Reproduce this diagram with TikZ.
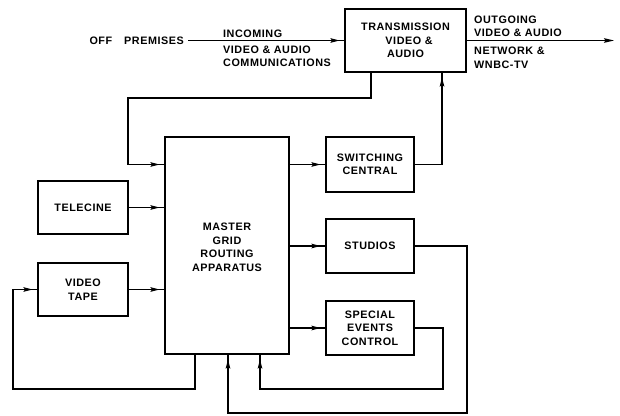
\documentclass[tikz,border=0pt]{standalone}
\usepackage{fontspec}
\setmainfont{Liberation Sans}[LetterSpace=5]
\usetikzlibrary{arrows.meta,decorations.markings}
\tikzset{
  lw/.style={line width=1.1pt},
  box/.style={draw, lw, inner sep=0pt, align=center, font=\lbl},
  lab/.style={inner sep=0pt, align=left, font=\lbl},
  arr/.style={lw, postaction={decorate}, decoration={markings,
      mark=at position -5pt with {\arrow{Stealth[length=9pt,width=4.6pt,inset=1.5pt]}}}},
  endarr/.style={lw, -{Stealth[length=10pt,width=4.6pt,inset=1.5pt]}},
}
\newcommand{\lbl}{\fontsize{10.8}{13.5}\selectfont\bfseries}
\begin{document}
\begin{tikzpicture}[x=1pt,y=-1pt]
\useasboundingbox (0,0) rectangle (620,415);
% boxes
\node[box, minimum width=121pt, minimum height=63pt] (trans) at (405.5,40.5)
  {TRANSMISSION\\ \ \ VIDEO \&\\ AUDIO};
\node[box, minimum width=124pt, minimum height=217pt] (master) at (227,245.5)
  {\raisebox{-5.5pt}[0pt][0pt]{\begin{tabular}{@{}c@{}}MASTER\\GRID\\ROUTING\\APPARATUS\end{tabular}}};
\node[box, minimum width=90pt, minimum height=53pt] (telecine) at (83,207.5) {TELECINE};
\node[box, minimum width=90pt, minimum height=53pt] (vtape) at (83,289.5) {VIDEO\\TAPE};
\node[box, minimum width=88pt, minimum height=55pt] (switch) at (370,164.5) {SWITCHING\\CENTRAL};
\node[box, minimum width=88pt, minimum height=54pt] (studios) at (370,246) {STUDIOS};
\node[box, minimum width=88pt, minimum height=54pt] (special) at (370,328) {SPECIAL\\EVENTS\\CONTROL};
% labels
\node[lab, anchor=east] (offp) at (184,40.5) {OFF\hspace{12pt}PREMISES};
\node[lab, anchor=west] (inc) at (223,34) {INCOMING};
\node[lab, anchor=north west] (vac) at (223,45.5) {VIDEO \& AUDIO\\COMMUNICATIONS};
\node[lab, anchor=south west] (outg) at (474,37) {OUTGOING\\VIDEO \& AUDIO};
\node[lab, anchor=north west] (netw) at (474,47) {NETWORK \&\\WNBC-TV};
% helper coordinates
\coordinate (out) at (614,40.5);
\coordinate (k1) at (371,98);
\coordinate (k2) at (128,98);
\coordinate (k3) at (442,164.5);
\coordinate (k4) at (467,413);
\coordinate (k5) at (228,413);
\coordinate (k6) at (443,389);
\coordinate (k7) at (260,389);
\coordinate (k8) at (195,389);
\coordinate (k9) at (13,389);
% connectors
\draw[arr] (offp.east) ++(4pt,0) -- (trans.west);
\draw[endarr] (trans.east) -- (out);
\draw[arr] (trans.south -| k1) -- (k1) -- (k2) |- (master.west |- switch.west);
\draw[arr] (telecine.east) -- (master.west |- telecine.east);
\draw[arr] (vtape.east) -- (master.west |- vtape.east);
\draw[arr] (master.east |- switch.west) -- (switch.west);
\draw[arr] (master.east |- studios.west) -- (studios.west);
\draw[arr] (master.east |- special.west) -- (special.west);
\draw[arr] (switch.east) -| (trans.south -| k3);
\draw[arr] (studios.east) -| (k4) -| (master.south -| k5);
\draw[arr] (special.east) -| (k6) -| (master.south -| k7);
\draw[arr] (master.south -| k8) |- (k9) |- (vtape.west);
\end{tikzpicture}
\end{document}
